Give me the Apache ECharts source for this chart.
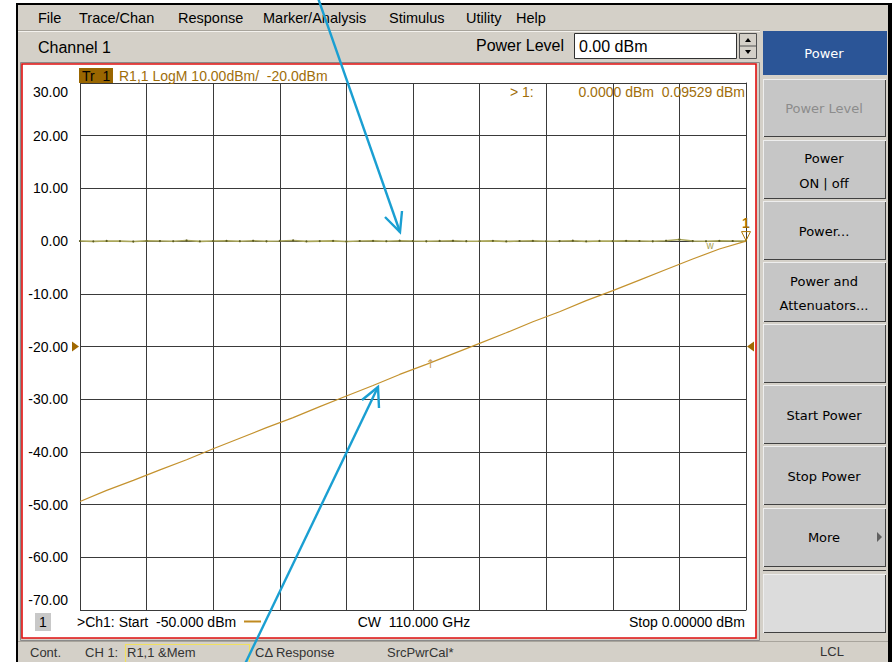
<!DOCTYPE html>
<html><head><meta charset="utf-8">
<script src="https://cdn.jsdelivr.net/npm/echarts@6/dist/echarts.min.js"></script>
<style>html,body{margin:0;padding:0;background:#fff}#c{width:893px;height:662px}</style>
</head><body><div id="c"></div>
<script>
// ---- data ----
const sweepPower = [-50,-48,-46,-44,-42,-40,-38,-36,-34,-32,-30,-28,-26,-24,-22,-20,-18,-16,-14,-12,-10,-8,-6,-4,-2,0];
const r11Power   = [-49.4,-47.3,-45.4,-43.4,-41.5,-39.4,-37.4,-35.4,-33.5,-31.4,-29.4,-27.4,-25.3,-23.4,-21.4,-19.4,-17.4,-15.3,-13.4,-11.3,-9.4,-7.4,-5.4,-3.4,-1.5,0.0];
const memSweep = [-50,-49,-48,-47,-46,-45,-44,-43,-42,-41,-40,-39,-38,-37,-36,-35,-34,-33,-32,-31,-30,-29,-28,-27,-26,-25,-24,-23,-22,-21,-20,-19,-18,-17,-16,-15,-14,-13,-12,-11,-10,-9,-8,-7,-6,-5,-4,-3,-2,-1,0];
const memPower = [0.02,-0.05,0.03,0.00,-0.08,0.05,0.01,-0.03,0.10,-0.06,0.02,0.04,-0.02,0.06,-0.04,0.03,0.12,-0.05,0.00,0.04,-0.07,0.02,0.05,-0.03,0.08,0.01,-0.04,0.03,0.06,-0.02,0.00,0.05,-0.06,0.02,0.04,-0.03,0.01,0.07,-0.05,0.03,-0.01,0.05,0.02,-0.04,0.06,0.30,0.01,-0.03,0.04,0.02,0.00];
const yMin = -70, yMax = 30, yStep = 10;
const xMin = -50, xMax = 0, xStep = 5;
const marker1 = [0, 0];
const markerArrow = [-23.7, -23.1];
const markerW = [-2.7, 0];
const refLevel = -20;

const FONT = 'Liberation Sans';
const UIF = 'DejaVu Sans';
const chart = echarts.init(document.getElementById('c'), null, {renderer:'svg', width:893, height:662});

chart.setOption({
  backgroundColor:'#ffffff',
  animation:false,
  grid:{left:80, right:147, top:83, bottom:52, containLabel:false},
  xAxis:{type:'value', min:xMin, max:xMax, interval:xStep,
    axisLabel:{show:false}, axisTick:{show:false},
    axisLine:{show:true, lineStyle:{color:'#3a3a3a', width:1}},
    splitLine:{show:true, lineStyle:{color:'#3a3a3a', width:1}}},
  yAxis:{type:'value', min:yMin, max:yMax, interval:yStep,
    axisTick:{show:false},
    axisLine:{show:true, lineStyle:{color:'#3a3a3a', width:1}},
    splitLine:{show:true, lineStyle:{color:'#3a3a3a', width:1}},
    axisLabel:{margin:12, color:'#000', fontFamily:FONT, fontSize:14,
      formatter:function(v){
        if(v===yMax) return '{t|'+v.toFixed(2)+'}';
        if(v===yMin) return '{b|'+v.toFixed(2)+'}';
        return v.toFixed(2);
      },
      rich:{
        t:{padding:[18,0,0,0], fontFamily:FONT, fontSize:14, color:'#000'},
        b:{padding:[0,0,20,0], fontFamily:FONT, fontSize:14, color:'#000'}
      }}},
  series:[
    {type:'line', name:'Mem', data:memSweep.map((x,i)=>[x,memPower[i]]),
      lineStyle:{color:'#aaa65a', width:1.6}, showSymbol:true, symbol:'circle', symbolSize:2.2,
      itemStyle:{color:'#5c5c22'}, z:3,
      markPoint:{silent:true, data:[
        {coord:marker1, symbol:'triangle', symbolRotate:180, symbolSize:[9,9], symbolOffset:[0,-5],
          itemStyle:{color:'rgba(0,0,0,0)', borderColor:'#b07800', borderWidth:1},
          label:{show:true, formatter:'1', position:'top', distance:1, color:'#a87000', fontFamily:FONT, fontSize:14, fontWeight:'bold'}},
        {coord:markerW, symbol:'circle', symbolSize:0.1,
          label:{show:true, formatter:'w', position:'bottom', distance:-1, color:'#a8a050', fontFamily:FONT, fontSize:10}}
      ]}},
    {type:'line', name:'R1,1', data:sweepPower.map((x,i)=>[x,r11Power[i]]),
      lineStyle:{color:'#c4922e', width:1.2}, showSymbol:false, z:4,
      markPoint:{silent:true, data:[
        {coord:markerArrow, symbol:'circle', symbolSize:0.1,
          label:{show:true, formatter:'↑', position:'bottom', distance:-5, color:'#c8a060', fontFamily:UIF, fontSize:12}}
      ]}}
  ]
});

// ---- instrument chrome (decoration) ----
const G = [];
const rect=(x,y,w,h,fill,stroke,lw,z)=>G.push({type:'rect',shape:{x,y,width:w,height:h},style:{fill:fill||'none',stroke:stroke||null,lineWidth:lw||1},z:z===undefined?-10:z,silent:true});
const line=(x1,y1,x2,y2,c,lw,z)=>G.push({type:'line',shape:{x1,y1,x2,y2},style:{stroke:c,lineWidth:lw||1},z:z===undefined?-9:z,silent:true});
const text=(x,y,t,o)=>G.push({type:'text',x,y,z:10,silent:true,style:Object.assign({text:t,fill:'#000',font:'14px '+FONT,textAlign:'left',textVerticalAlign:'middle'},o||{})});

// outer frame
rect(16,3,876,662,'#000');
rect(18,5,870,660,'#d4d0c8');
line(18,30.5,760,30.5,'#a8a49c');
line(18,31.5,760,31.5,'#f4f2ee');
// menu
[['File',38],['Trace/Chan',79],['Response',178],['Marker/Analysis',263],['Stimulus',389],['Utility',466],['Help',516]].forEach(m=>text(m[1],18,m[0],{font:'14.5px '+FONT}));
text(38,47,'Channel 1',{font:'16px '+FONT});
text(564,45,'Power Level',{font:'16px '+FONT, textAlign:'right'});
rect(574.5,33.5,162,25,'#ffffff','#303030',1);
text(579,46,'0.00 dBm',{font:'16px '+FONT});
rect(739.5,33.5,17,25,'#d4d0c8','#505050',1);
line(740,46,756,46,'#505050',1,-8);
G.push({type:'polygon',shape:{points:[[745,42],[748,38],[751,42]]},style:{fill:'#000'},z:-8,silent:true});
G.push({type:'polygon',shape:{points:[[745,50],[748,54],[751,50]]},style:{fill:'#000'},z:-8,silent:true});
// plot frame
rect(20.5,62.5,739,578,null,'#8a8a8a',1);
rect(22,64,734,574,'#ffffff','#e01010',1.6);
// status bar
line(18,641.5,888,641.5,'#a8a49c');
rect(125.5,644.5,124,18,null,'#f0e060',1.2,-8);
text(30,652,'Cont.',{font:'13px '+FONT, fill:'#333'});
text(85,652,'CH 1:',{font:'13px '+FONT, fill:'#333'});
text(127,652,'R1,1 &Mem',{font:'13px '+FONT, fill:'#333'});
text(255,652,'CΔ Response',{font:'13px '+FONT, fill:'#333'});
text(387,652,'SrcPwrCal*',{font:'13px '+FONT, fill:'#333'});
text(832,651,'LCL',{font:'13px '+FONT, fill:'#333', textAlign:'center'});
// right softkeys
const btn=(y,h,fill)=>{rect(763,y,123,h,fill||'#c6c6c6',null,1);line(763,y+h-0.5,886,y+h-0.5,'#404040');line(885.5,y,885.5,y+h,'#404040');line(763,y+0.5,886,y+0.5,'#eeeeee');line(763.5,y,763.5,y+h,'#eeeeee');};
rect(763,31,124,44,'#2b5597',null,1);
text(824,53,'Power',{font:'13px '+UIF, fill:'#ffffff', textAlign:'center'});
btn(79,58); text(824,108,'Power Level',{font:'13px '+UIF, fill:'#8c8c8c', textAlign:'center'});
btn(140,59); text(824,158,'Power',{font:'13px '+UIF, textAlign:'center'}); text(824,183,'ON | off',{font:'13px '+UIF, textAlign:'center'});
btn(201,59); text(824,231,'Power...',{font:'13px '+UIF, textAlign:'center'});
btn(262,60); text(824,281,'Power and',{font:'13px '+UIF, textAlign:'center'}); text(824,305,'Attenuators...',{font:'13px '+UIF, textAlign:'center'});
btn(324,59);
btn(385,59); text(824,415,'Start Power',{font:'13px '+UIF, textAlign:'center'});
btn(446,59); text(824,476,'Stop Power',{font:'13px '+UIF, textAlign:'center'});
btn(508,59); text(824,537,'More',{font:'13px '+UIF, textAlign:'center'});
G.push({type:'polygon',shape:{points:[[877,532],[882,537],[877,542]]},style:{fill:'#606060'},z:-8,silent:true});
line(763,570.5,886,570.5,'#404040');
btn(574,59,'#dcdcdc');
// trace header
rect(79,68,34,15,'#996600',null,1,-8);
text(82,76,'Tr  1',{font:'14px '+FONT});
text(119,76,'R1,1 LogM 10.00dBm/  -20.0dBm',{font:'14px '+FONT, fill:'#a06e0a'});
text(510,92,'> 1:',{font:'14px '+FONT, fill:'#a06e0a'});
text(745,92,'0.0000 dBm  0.09529 dBm',{font:'14px '+FONT, fill:'#a06e0a', textAlign:'right'});
// footer
rect(35,613,16,18,'#c8c8c8',null,1,-8);
text(43,622,'1',{font:'14px '+FONT, textAlign:'center'});
text(77,622,'>Ch1: Start  -50.000 dBm',{font:'14px '+FONT});
line(244,621.5,261,621.5,'#c08a20',2,5);
text(414,622,'CW  110.000 GHz',{font:'14px '+FONT, textAlign:'center'});
text(745,622,'Stop 0.00000 dBm',{font:'14px '+FONT, textAlign:'right'});
// reference level pointers
const pL = chart.convertToPixel({gridIndex:0},[xMin,refLevel]);
const pR = chart.convertToPixel({gridIndex:0},[xMax,refLevel]);
G.push({type:'polygon',shape:{points:[[pL[0]-8,pL[1]-5],[pL[0]-1,pL[1]],[pL[0]-8,pL[1]+5]]},style:{fill:'#a06800'},z:10,silent:true});
G.push({type:'polygon',shape:{points:[[pR[0]+8,pR[1]-5],[pR[0]+1,pR[1]],[pR[0]+8,pR[1]+5]]},style:{fill:'#a06800'},z:10,silent:true});
// blue annotation arrows
const BL='#1a9fd2';
G.push({type:'polyline',shape:{points:[[318,-2],[400,232]]},style:{stroke:BL,lineWidth:2.4,fill:null},z:20,silent:true});
G.push({type:'polyline',shape:{points:[[385,217],[400,232],[402,211]]},style:{stroke:BL,lineWidth:2.4,fill:null},z:20,silent:true});
G.push({type:'polyline',shape:{points:[[245,664],[378,387]]},style:{stroke:BL,lineWidth:2.4,fill:null},z:20,silent:true});
G.push({type:'polyline',shape:{points:[[362,400],[378,387],[379,408]]},style:{stroke:BL,lineWidth:2.4,fill:null},z:20,silent:true});

chart.setOption({graphic:{elements:G}});
</script></body></html>
